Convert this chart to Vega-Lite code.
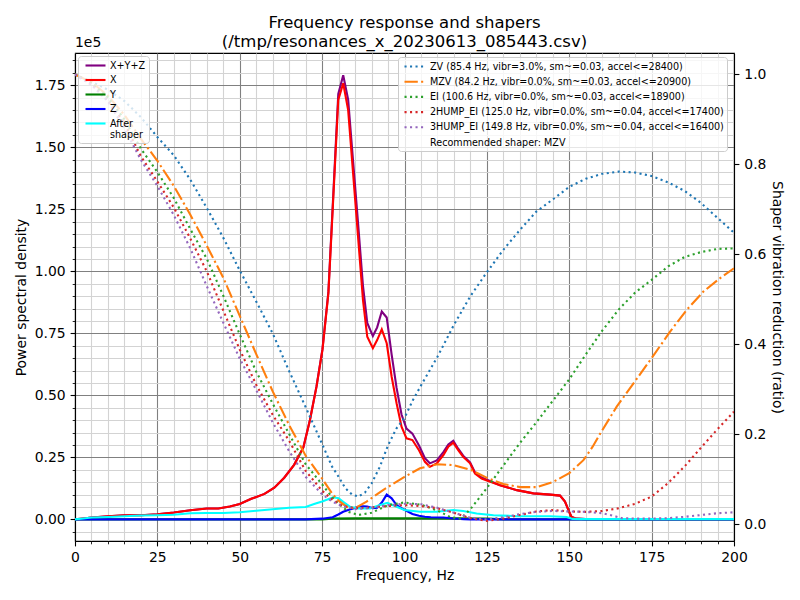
{
  "$schema": "https://vega.github.io/schema/vega-lite/v6.json",
  "width": 659,
  "height": 488,
  "autosize": "none",
  "padding": {"left": 75, "top": 53, "right": 66, "bottom": 59},
  "background": "#ffffff",
  "config": {
    "font": "DejaVu Sans",
    "view": {"stroke": "#000000", "strokeWidth": 1.1},
    "axis": {
      "labelFont": "DejaVu Sans",
      "labelFontSize": 13.9,
      "labelColor": "#000000",
      "titleFont": "DejaVu Sans",
      "titleFontSize": 13.9,
      "titleFontWeight": "normal",
      "titleColor": "#000000",
      "domainColor": "#000000",
      "domainWidth": 1.1,
      "tickColor": "#000000",
      "gridWidth": 1.1,
      "labelFlush": false,
      "labelOverlap": false,
      "labelPadding": 4.9
    },
    "legend": {
      "labelFont": "DejaVu Sans",
      "labelFontSize": 9.6,
      "labelColor": "#000000",
      "fillColor": "rgba(255,255,255,0.8)",
      "strokeColor": "#cccccc",
      "cornerRadius": 3,
      "padding": 3,
      "symbolType": "M-2,0L2,0",
      "symbolStrokeWidth": 2.1,
      "symbolSize": 100,
      "symbolOffset": 8,
      "rowPadding": 2.5,
      "labelOffset": 8,
      "labelLimit": 400
    }
  },
  "title": {
    "text": ["Frequency response and shapers", "(/tmp/resonances_x_20230613_085443.csv)"],
    "font": "DejaVu Sans",
    "fontSize": 16.5,
    "fontWeight": "normal",
    "color": "#000000",
    "anchor": "middle",
    "frame": "group",
    "baseline": "bottom",
    "lineHeight": 18.5,
    "offset": -30
  },
  "datasets": {
    "psd": [
      {"s": "X+Y+Z", "f": 0, "v": 0}, {"s": "X+Y+Z", "f": 2.5, "v": 400}, {"s": "X+Y+Z", "f": 5, "v": 800}, {"s": "X+Y+Z", "f": 10, "v": 1300},
      {"s": "X+Y+Z", "f": 15, "v": 1700}, {"s": "X+Y+Z", "f": 20, "v": 1700}, {"s": "X+Y+Z", "f": 25, "v": 2100}, {"s": "X+Y+Z", "f": 30, "v": 2800},
      {"s": "X+Y+Z", "f": 35, "v": 3700}, {"s": "X+Y+Z", "f": 40, "v": 4400}, {"s": "X+Y+Z", "f": 43.5, "v": 4400}, {"s": "X+Y+Z", "f": 47, "v": 5200},
      {"s": "X+Y+Z", "f": 50, "v": 6200}, {"s": "X+Y+Z", "f": 53.5, "v": 8300}, {"s": "X+Y+Z", "f": 57.5, "v": 10300}, {"s": "X+Y+Z", "f": 60.5, "v": 12800},
      {"s": "X+Y+Z", "f": 63.5, "v": 16800}, {"s": "X+Y+Z", "f": 66.5, "v": 22000}, {"s": "X+Y+Z", "f": 69.3, "v": 29000}, {"s": "X+Y+Z", "f": 71.3, "v": 40100},
      {"s": "X+Y+Z", "f": 73.3, "v": 53700}, {"s": "X+Y+Z", "f": 75.1, "v": 68600}, {"s": "X+Y+Z", "f": 76.9, "v": 91700}, {"s": "X+Y+Z", "f": 78.2, "v": 126000},
      {"s": "X+Y+Z", "f": 79.9, "v": 171500}, {"s": "X+Y+Z", "f": 81.4, "v": 179000}, {"s": "X+Y+Z", "f": 82.9, "v": 169200}, {"s": "X+Y+Z", "f": 84.4, "v": 144300},
      {"s": "X+Y+Z", "f": 85.9, "v": 119500}, {"s": "X+Y+Z", "f": 87.4, "v": 94100}, {"s": "X+Y+Z", "f": 88.7, "v": 79200}, {"s": "X+Y+Z", "f": 90.4, "v": 73900},
      {"s": "X+Y+Z", "f": 91.7, "v": 77400}, {"s": "X+Y+Z", "f": 93.1, "v": 83800}, {"s": "X+Y+Z", "f": 94.6, "v": 81400}, {"s": "X+Y+Z", "f": 96.1, "v": 66400},
      {"s": "X+Y+Z", "f": 97.6, "v": 53000}, {"s": "X+Y+Z", "f": 99.1, "v": 42300}, {"s": "X+Y+Z", "f": 100.6, "v": 36600}, {"s": "X+Y+Z", "f": 102.4, "v": 34600},
      {"s": "X+Y+Z", "f": 104.4, "v": 29800}, {"s": "X+Y+Z", "f": 106.2, "v": 24700}, {"s": "X+Y+Z", "f": 107.7, "v": 22600}, {"s": "X+Y+Z", "f": 109.8, "v": 23800},
      {"s": "X+Y+Z", "f": 111.8, "v": 27100}, {"s": "X+Y+Z", "f": 113.3, "v": 30200}, {"s": "X+Y+Z", "f": 114.8, "v": 31700}, {"s": "X+Y+Z", "f": 116.3, "v": 28500},
      {"s": "X+Y+Z", "f": 117.8, "v": 25700}, {"s": "X+Y+Z", "f": 119.9, "v": 23000}, {"s": "X+Y+Z", "f": 121.4, "v": 18900}, {"s": "X+Y+Z", "f": 123.4, "v": 16900},
      {"s": "X+Y+Z", "f": 125.2, "v": 15900}, {"s": "X+Y+Z", "f": 129, "v": 13800}, {"s": "X+Y+Z", "f": 134.1, "v": 11800}, {"s": "X+Y+Z", "f": 139.1, "v": 10500},
      {"s": "X+Y+Z", "f": 144.2, "v": 10000}, {"s": "X+Y+Z", "f": 147.2, "v": 9600}, {"s": "X+Y+Z", "f": 148.7, "v": 7200}, {"s": "X+Y+Z", "f": 150, "v": 3000},
      {"s": "X+Y+Z", "f": 150.7, "v": 1000}, {"s": "X+Y+Z", "f": 152.2, "v": 300}, {"s": "X+Y+Z", "f": 155, "v": 100}, {"s": "X+Y+Z", "f": 200, "v": 100},

      {"s": "X", "f": 0, "v": 0}, {"s": "X", "f": 2.5, "v": 400}, {"s": "X", "f": 5, "v": 800}, {"s": "X", "f": 10, "v": 1300},
      {"s": "X", "f": 15, "v": 1700}, {"s": "X", "f": 20, "v": 1700}, {"s": "X", "f": 25, "v": 2100}, {"s": "X", "f": 30, "v": 2800},
      {"s": "X", "f": 35, "v": 3700}, {"s": "X", "f": 40, "v": 4400}, {"s": "X", "f": 43.5, "v": 4400}, {"s": "X", "f": 47, "v": 5200},
      {"s": "X", "f": 50, "v": 6200}, {"s": "X", "f": 53.5, "v": 8300}, {"s": "X", "f": 57.5, "v": 10300}, {"s": "X", "f": 60.5, "v": 12800},
      {"s": "X", "f": 63.5, "v": 16800}, {"s": "X", "f": 66.5, "v": 22000}, {"s": "X", "f": 69.3, "v": 29000}, {"s": "X", "f": 71.3, "v": 40000},
      {"s": "X", "f": 73.3, "v": 53500}, {"s": "X", "f": 75.1, "v": 68300}, {"s": "X", "f": 76.9, "v": 91100}, {"s": "X", "f": 78.2, "v": 124700},
      {"s": "X", "f": 79.9, "v": 169100}, {"s": "X", "f": 81.4, "v": 175800}, {"s": "X", "f": 82.9, "v": 165000}, {"s": "X", "f": 84.4, "v": 139500},
      {"s": "X", "f": 85.9, "v": 114000}, {"s": "X", "f": 87.4, "v": 88400}, {"s": "X", "f": 88.7, "v": 73600}, {"s": "X", "f": 90.4, "v": 69000},
      {"s": "X", "f": 91.7, "v": 72300}, {"s": "X", "f": 93.1, "v": 76600}, {"s": "X", "f": 94.6, "v": 71000}, {"s": "X", "f": 96.1, "v": 57500},
      {"s": "X", "f": 97.6, "v": 46800}, {"s": "X", "f": 99.1, "v": 37400}, {"s": "X", "f": 100.6, "v": 32700}, {"s": "X", "f": 102.4, "v": 32000},
      {"s": "X", "f": 104.4, "v": 27900}, {"s": "X", "f": 106.2, "v": 23200}, {"s": "X", "f": 107.7, "v": 21200}, {"s": "X", "f": 109.8, "v": 22600},
      {"s": "X", "f": 111.8, "v": 25900}, {"s": "X", "f": 113.3, "v": 29300}, {"s": "X", "f": 114.8, "v": 30900}, {"s": "X", "f": 116.3, "v": 27900},
      {"s": "X", "f": 117.8, "v": 25200}, {"s": "X", "f": 119.9, "v": 22600}, {"s": "X", "f": 121.4, "v": 18500}, {"s": "X", "f": 123.4, "v": 16500},
      {"s": "X", "f": 125.2, "v": 15600}, {"s": "X", "f": 129, "v": 13800}, {"s": "X", "f": 134.1, "v": 11800}, {"s": "X", "f": 139.1, "v": 10500},
      {"s": "X", "f": 144.2, "v": 10000}, {"s": "X", "f": 147.2, "v": 9600}, {"s": "X", "f": 148.7, "v": 7200}, {"s": "X", "f": 150, "v": 3000},
      {"s": "X", "f": 150.7, "v": 1000}, {"s": "X", "f": 152.2, "v": 300}, {"s": "X", "f": 155, "v": 100}, {"s": "X", "f": 200, "v": 100},

      {"s": "Y", "f": 0, "v": 0}, {"s": "Y", "f": 75, "v": 0}, {"s": "Y", "f": 78, "v": 300}, {"s": "Y", "f": 85, "v": 400},
      {"s": "Y", "f": 100, "v": 400}, {"s": "Y", "f": 115, "v": 400}, {"s": "Y", "f": 125, "v": 300}, {"s": "Y", "f": 130, "v": 0},
      {"s": "Y", "f": 200, "v": 0},

      {"s": "Z", "f": 0, "v": 0}, {"s": "Z", "f": 70, "v": 0}, {"s": "Z", "f": 75, "v": 300}, {"s": "Z", "f": 78.2, "v": 900},
      {"s": "Z", "f": 79.9, "v": 2000}, {"s": "Z", "f": 81.4, "v": 3100}, {"s": "Z", "f": 82.9, "v": 3800}, {"s": "Z", "f": 84.4, "v": 4400},
      {"s": "Z", "f": 85.9, "v": 5100}, {"s": "Z", "f": 87.4, "v": 5300}, {"s": "Z", "f": 88.7, "v": 5200}, {"s": "Z", "f": 90.4, "v": 4500},
      {"s": "Z", "f": 91.7, "v": 4700}, {"s": "Z", "f": 93.1, "v": 6800}, {"s": "Z", "f": 94.6, "v": 10000}, {"s": "Z", "f": 96.1, "v": 8500},
      {"s": "Z", "f": 97.6, "v": 5800}, {"s": "Z", "f": 99.1, "v": 4500}, {"s": "Z", "f": 100.6, "v": 3500}, {"s": "Z", "f": 102.4, "v": 2200},
      {"s": "Z", "f": 104.4, "v": 1500}, {"s": "Z", "f": 106.2, "v": 1100}, {"s": "Z", "f": 108, "v": 900}, {"s": "Z", "f": 111.8, "v": 800},
      {"s": "Z", "f": 114.8, "v": 400}, {"s": "Z", "f": 118, "v": 100}, {"s": "Z", "f": 120, "v": 0}, {"s": "Z", "f": 200, "v": 0},

      {"s": "After shaper", "f": 0, "v": 0}, {"s": "After shaper", "f": 2.5, "v": 400}, {"s": "After shaper", "f": 5, "v": 800}, {"s": "After shaper", "f": 10, "v": 1000},
      {"s": "After shaper", "f": 15, "v": 1300}, {"s": "After shaper", "f": 20, "v": 1600}, {"s": "After shaper", "f": 25, "v": 1700}, {"s": "After shaper", "f": 30, "v": 1900},
      {"s": "After shaper", "f": 35, "v": 2500}, {"s": "After shaper", "f": 40, "v": 2600}, {"s": "After shaper", "f": 45, "v": 2600}, {"s": "After shaper", "f": 50, "v": 2900},
      {"s": "After shaper", "f": 55, "v": 3500}, {"s": "After shaper", "f": 60, "v": 4100}, {"s": "After shaper", "f": 65, "v": 4700}, {"s": "After shaper", "f": 70, "v": 5000},
      {"s": "After shaper", "f": 72.8, "v": 6300}, {"s": "After shaper", "f": 75, "v": 7200}, {"s": "After shaper", "f": 78.4, "v": 8900}, {"s": "After shaper", "f": 80, "v": 8500},
      {"s": "After shaper", "f": 81.4, "v": 7100}, {"s": "After shaper", "f": 83.5, "v": 5100}, {"s": "After shaper", "f": 86, "v": 4400}, {"s": "After shaper", "f": 89.5, "v": 4400},
      {"s": "After shaper", "f": 92.6, "v": 5800}, {"s": "After shaper", "f": 94.8, "v": 6700}, {"s": "After shaper", "f": 97.6, "v": 5100}, {"s": "After shaper", "f": 100, "v": 3800},
      {"s": "After shaper", "f": 104.7, "v": 3100}, {"s": "After shaper", "f": 109.8, "v": 3100}, {"s": "After shaper", "f": 114.8, "v": 3800}, {"s": "After shaper", "f": 117.8, "v": 3400},
      {"s": "After shaper", "f": 121.9, "v": 2400}, {"s": "After shaper", "f": 127, "v": 1700}, {"s": "After shaper", "f": 134, "v": 1300}, {"s": "After shaper", "f": 144.2, "v": 1300},
      {"s": "After shaper", "f": 149.2, "v": 1000}, {"s": "After shaper", "f": 151, "v": 200}, {"s": "After shaper", "f": 155, "v": 100}, {"s": "After shaper", "f": 200, "v": 100}
    ],
    "shapers": [
      {"k": "ZV", "f": 0, "r": 1}, {"k": "ZV", "f": 5, "r": 0.984}, {"k": "ZV", "f": 10, "r": 0.966}, {"k": "ZV", "f": 15, "r": 0.941},
      {"k": "ZV", "f": 20, "r": 0.905}, {"k": "ZV", "f": 25, "r": 0.861}, {"k": "ZV", "f": 30, "r": 0.82}, {"k": "ZV", "f": 35, "r": 0.766},
      {"k": "ZV", "f": 40, "r": 0.703}, {"k": "ZV", "f": 45, "r": 0.637}, {"k": "ZV", "f": 50, "r": 0.564}, {"k": "ZV", "f": 55, "r": 0.495},
      {"k": "ZV", "f": 60, "r": 0.424}, {"k": "ZV", "f": 65, "r": 0.34}, {"k": "ZV", "f": 70, "r": 0.26}, {"k": "ZV", "f": 75, "r": 0.178},
      {"k": "ZV", "f": 78, "r": 0.128}, {"k": "ZV", "f": 80, "r": 0.105}, {"k": "ZV", "f": 82, "r": 0.08}, {"k": "ZV", "f": 84, "r": 0.066},
      {"k": "ZV", "f": 86, "r": 0.061}, {"k": "ZV", "f": 88, "r": 0.07}, {"k": "ZV", "f": 90, "r": 0.09}, {"k": "ZV", "f": 92.5, "r": 0.127},
      {"k": "ZV", "f": 95, "r": 0.175}, {"k": "ZV", "f": 97.5, "r": 0.212}, {"k": "ZV", "f": 100, "r": 0.236}, {"k": "ZV", "f": 102.5, "r": 0.275},
      {"k": "ZV", "f": 105, "r": 0.308}, {"k": "ZV", "f": 107.5, "r": 0.34}, {"k": "ZV", "f": 110, "r": 0.372}, {"k": "ZV", "f": 115, "r": 0.443},
      {"k": "ZV", "f": 120, "r": 0.507}, {"k": "ZV", "f": 125, "r": 0.56}, {"k": "ZV", "f": 130, "r": 0.61}, {"k": "ZV", "f": 135, "r": 0.654},
      {"k": "ZV", "f": 140, "r": 0.695}, {"k": "ZV", "f": 145, "r": 0.722}, {"k": "ZV", "f": 150, "r": 0.75}, {"k": "ZV", "f": 155, "r": 0.768},
      {"k": "ZV", "f": 160, "r": 0.779}, {"k": "ZV", "f": 165, "r": 0.784}, {"k": "ZV", "f": 170, "r": 0.782}, {"k": "ZV", "f": 175, "r": 0.774},
      {"k": "ZV", "f": 180, "r": 0.76}, {"k": "ZV", "f": 185, "r": 0.741}, {"k": "ZV", "f": 190, "r": 0.714}, {"k": "ZV", "f": 195, "r": 0.681},
      {"k": "ZV", "f": 200, "r": 0.648},

      {"k": "MZV", "f": 0, "r": 1}, {"k": "MZV", "f": 5, "r": 0.983}, {"k": "MZV", "f": 10, "r": 0.953}, {"k": "MZV", "f": 15, "r": 0.91},
      {"k": "MZV", "f": 20, "r": 0.857}, {"k": "MZV", "f": 25, "r": 0.808}, {"k": "MZV", "f": 30, "r": 0.752}, {"k": "MZV", "f": 35, "r": 0.688},
      {"k": "MZV", "f": 40, "r": 0.619}, {"k": "MZV", "f": 45, "r": 0.548}, {"k": "MZV", "f": 50, "r": 0.463}, {"k": "MZV", "f": 55, "r": 0.378},
      {"k": "MZV", "f": 60, "r": 0.295}, {"k": "MZV", "f": 65, "r": 0.22}, {"k": "MZV", "f": 70, "r": 0.152}, {"k": "MZV", "f": 75, "r": 0.101},
      {"k": "MZV", "f": 78, "r": 0.068}, {"k": "MZV", "f": 80, "r": 0.052}, {"k": "MZV", "f": 82.5, "r": 0.038}, {"k": "MZV", "f": 85, "r": 0.035},
      {"k": "MZV", "f": 88.5, "r": 0.05}, {"k": "MZV", "f": 93.6, "r": 0.076}, {"k": "MZV", "f": 100, "r": 0.105}, {"k": "MZV", "f": 104.7, "r": 0.124},
      {"k": "MZV", "f": 110, "r": 0.133}, {"k": "MZV", "f": 114.8, "r": 0.131}, {"k": "MZV", "f": 120.2, "r": 0.12}, {"k": "MZV", "f": 125.2, "r": 0.102},
      {"k": "MZV", "f": 130, "r": 0.089}, {"k": "MZV", "f": 135.1, "r": 0.082}, {"k": "MZV", "f": 140.1, "r": 0.082}, {"k": "MZV", "f": 145.2, "r": 0.094},
      {"k": "MZV", "f": 150, "r": 0.113}, {"k": "MZV", "f": 154.3, "r": 0.142}, {"k": "MZV", "f": 157.1, "r": 0.172}, {"k": "MZV", "f": 159.3, "r": 0.2},
      {"k": "MZV", "f": 164.4, "r": 0.261}, {"k": "MZV", "f": 169.5, "r": 0.313}, {"k": "MZV", "f": 175, "r": 0.369}, {"k": "MZV", "f": 180.6, "r": 0.428},
      {"k": "MZV", "f": 185.6, "r": 0.476}, {"k": "MZV", "f": 190.7, "r": 0.517}, {"k": "MZV", "f": 195.8, "r": 0.547}, {"k": "MZV", "f": 200, "r": 0.569},

      {"k": "EI", "f": 0, "r": 1}, {"k": "EI", "f": 5, "r": 0.981}, {"k": "EI", "f": 10, "r": 0.949}, {"k": "EI", "f": 15, "r": 0.9},
      {"k": "EI", "f": 20, "r": 0.835}, {"k": "EI", "f": 25, "r": 0.783}, {"k": "EI", "f": 30, "r": 0.725}, {"k": "EI", "f": 35, "r": 0.656},
      {"k": "EI", "f": 40, "r": 0.59}, {"k": "EI", "f": 45, "r": 0.508}, {"k": "EI", "f": 50, "r": 0.422}, {"k": "EI", "f": 55, "r": 0.339},
      {"k": "EI", "f": 60, "r": 0.268}, {"k": "EI", "f": 65, "r": 0.2}, {"k": "EI", "f": 70, "r": 0.133}, {"k": "EI", "f": 75, "r": 0.088},
      {"k": "EI", "f": 78, "r": 0.06}, {"k": "EI", "f": 80, "r": 0.045}, {"k": "EI", "f": 83, "r": 0.027}, {"k": "EI", "f": 86, "r": 0.02},
      {"k": "EI", "f": 90, "r": 0.025}, {"k": "EI", "f": 95, "r": 0.042}, {"k": "EI", "f": 100, "r": 0.048}, {"k": "EI", "f": 105, "r": 0.043},
      {"k": "EI", "f": 110, "r": 0.03}, {"k": "EI", "f": 114, "r": 0.015}, {"k": "EI", "f": 117, "r": 0.012}, {"k": "EI", "f": 120, "r": 0.033},
      {"k": "EI", "f": 123, "r": 0.061}, {"k": "EI", "f": 125, "r": 0.08}, {"k": "EI", "f": 130, "r": 0.13}, {"k": "EI", "f": 135, "r": 0.18},
      {"k": "EI", "f": 140, "r": 0.226}, {"k": "EI", "f": 145, "r": 0.274}, {"k": "EI", "f": 150, "r": 0.322}, {"k": "EI", "f": 155, "r": 0.377},
      {"k": "EI", "f": 160, "r": 0.43}, {"k": "EI", "f": 165, "r": 0.477}, {"k": "EI", "f": 170, "r": 0.515}, {"k": "EI", "f": 175, "r": 0.543},
      {"k": "EI", "f": 180, "r": 0.573}, {"k": "EI", "f": 185, "r": 0.594}, {"k": "EI", "f": 190, "r": 0.605}, {"k": "EI", "f": 195, "r": 0.612},
      {"k": "EI", "f": 200, "r": 0.613},

      {"k": "2HUMP_EI", "f": 0, "r": 1}, {"k": "2HUMP_EI", "f": 5, "r": 0.978}, {"k": "2HUMP_EI", "f": 10, "r": 0.942}, {"k": "2HUMP_EI", "f": 15, "r": 0.892},
      {"k": "2HUMP_EI", "f": 20, "r": 0.818}, {"k": "2HUMP_EI", "f": 25, "r": 0.762}, {"k": "2HUMP_EI", "f": 30, "r": 0.704}, {"k": "2HUMP_EI", "f": 35, "r": 0.635},
      {"k": "2HUMP_EI", "f": 40, "r": 0.562}, {"k": "2HUMP_EI", "f": 45, "r": 0.475}, {"k": "2HUMP_EI", "f": 50, "r": 0.388}, {"k": "2HUMP_EI", "f": 55, "r": 0.31},
      {"k": "2HUMP_EI", "f": 60, "r": 0.243}, {"k": "2HUMP_EI", "f": 65, "r": 0.185}, {"k": "2HUMP_EI", "f": 70, "r": 0.118}, {"k": "2HUMP_EI", "f": 75, "r": 0.074},
      {"k": "2HUMP_EI", "f": 78, "r": 0.055}, {"k": "2HUMP_EI", "f": 81, "r": 0.041}, {"k": "2HUMP_EI", "f": 85, "r": 0.035}, {"k": "2HUMP_EI", "f": 90, "r": 0.037},
      {"k": "2HUMP_EI", "f": 95, "r": 0.04}, {"k": "2HUMP_EI", "f": 100, "r": 0.042}, {"k": "2HUMP_EI", "f": 105, "r": 0.04}, {"k": "2HUMP_EI", "f": 110, "r": 0.035},
      {"k": "2HUMP_EI", "f": 115, "r": 0.025}, {"k": "2HUMP_EI", "f": 120, "r": 0.013}, {"k": "2HUMP_EI", "f": 125, "r": 0.007}, {"k": "2HUMP_EI", "f": 130, "r": 0.012},
      {"k": "2HUMP_EI", "f": 135, "r": 0.02}, {"k": "2HUMP_EI", "f": 140, "r": 0.028}, {"k": "2HUMP_EI", "f": 145, "r": 0.031}, {"k": "2HUMP_EI", "f": 150, "r": 0.028},
      {"k": "2HUMP_EI", "f": 155, "r": 0.027}, {"k": "2HUMP_EI", "f": 160, "r": 0.029}, {"k": "2HUMP_EI", "f": 165, "r": 0.035}, {"k": "2HUMP_EI", "f": 170, "r": 0.045},
      {"k": "2HUMP_EI", "f": 175, "r": 0.061}, {"k": "2HUMP_EI", "f": 180, "r": 0.091}, {"k": "2HUMP_EI", "f": 185, "r": 0.128}, {"k": "2HUMP_EI", "f": 190, "r": 0.17},
      {"k": "2HUMP_EI", "f": 195, "r": 0.211}, {"k": "2HUMP_EI", "f": 200, "r": 0.25},

      {"k": "3HUMP_EI", "f": 0, "r": 1}, {"k": "3HUMP_EI", "f": 5, "r": 0.977}, {"k": "3HUMP_EI", "f": 10, "r": 0.94}, {"k": "3HUMP_EI", "f": 15, "r": 0.88},
      {"k": "3HUMP_EI", "f": 20, "r": 0.81}, {"k": "3HUMP_EI", "f": 25, "r": 0.752}, {"k": "3HUMP_EI", "f": 30, "r": 0.687}, {"k": "3HUMP_EI", "f": 35, "r": 0.613},
      {"k": "3HUMP_EI", "f": 40, "r": 0.529}, {"k": "3HUMP_EI", "f": 45, "r": 0.448}, {"k": "3HUMP_EI", "f": 50, "r": 0.368}, {"k": "3HUMP_EI", "f": 55, "r": 0.298},
      {"k": "3HUMP_EI", "f": 60, "r": 0.226}, {"k": "3HUMP_EI", "f": 65, "r": 0.162}, {"k": "3HUMP_EI", "f": 70, "r": 0.105}, {"k": "3HUMP_EI", "f": 75, "r": 0.066},
      {"k": "3HUMP_EI", "f": 78, "r": 0.05}, {"k": "3HUMP_EI", "f": 81, "r": 0.04}, {"k": "3HUMP_EI", "f": 85, "r": 0.033}, {"k": "3HUMP_EI", "f": 90, "r": 0.036},
      {"k": "3HUMP_EI", "f": 95, "r": 0.042}, {"k": "3HUMP_EI", "f": 100, "r": 0.045}, {"k": "3HUMP_EI", "f": 105, "r": 0.044}, {"k": "3HUMP_EI", "f": 110, "r": 0.036},
      {"k": "3HUMP_EI", "f": 115, "r": 0.025}, {"k": "3HUMP_EI", "f": 120, "r": 0.014}, {"k": "3HUMP_EI", "f": 125, "r": 0.01}, {"k": "3HUMP_EI", "f": 130, "r": 0.015},
      {"k": "3HUMP_EI", "f": 135, "r": 0.022}, {"k": "3HUMP_EI", "f": 140, "r": 0.027}, {"k": "3HUMP_EI", "f": 145, "r": 0.029}, {"k": "3HUMP_EI", "f": 150, "r": 0.028},
      {"k": "3HUMP_EI", "f": 155, "r": 0.027}, {"k": "3HUMP_EI", "f": 160, "r": 0.024}, {"k": "3HUMP_EI", "f": 163, "r": 0.019}, {"k": "3HUMP_EI", "f": 166, "r": 0.013},
      {"k": "3HUMP_EI", "f": 170, "r": 0.012}, {"k": "3HUMP_EI", "f": 175, "r": 0.012}, {"k": "3HUMP_EI", "f": 180, "r": 0.013}, {"k": "3HUMP_EI", "f": 185, "r": 0.016},
      {"k": "3HUMP_EI", "f": 190, "r": 0.02}, {"k": "3HUMP_EI", "f": 195, "r": 0.024}, {"k": "3HUMP_EI", "f": 200, "r": 0.026}
    ],
    "offset": [{"t": "1e5", "f": 0, "v": 188000}]
  },
  "layer": [
    {
      "layer": [
        {
          "data": {"name": "psd"},
          "mark": {"type": "line", "strokeWidth": 2.1, "clip": true},
          "encoding": {
            "x": {
              "field": "f",
              "type": "quantitative",
              "scale": {"domain": [0, 200], "nice": false, "zero": false},
              "axis": {
                "title": "Frequency, Hz",
                "titlePadding": 4,
                "values": [0, 5, 10, 15, 20, 25, 30, 35, 40, 45, 50, 55, 60, 65, 70, 75, 80, 85, 90, 95, 100, 105, 110, 115, 120, 125, 130, 135, 140, 145, 150, 155, 160, 165, 170, 175, 180, 185, 190, 195, 200],
                "format": "d",
                "labelExpr": "datum.value % 25 === 0 ? datum.label : ''",
                "grid": true,
                "gridColor": {"condition": {"test": "datum.value % 25 === 0", "value": "#808080"}, "value": "#d3d3d3"},
                "tickSize": {"condition": {"test": "datum.value % 25 === 0", "value": 4.9}, "value": 2.8},
                "tickWidth": {"condition": {"test": "datum.value % 25 === 0", "value": 1.1}, "value": 0.85}
              }
            },
            "y": {
              "field": "v",
              "type": "quantitative",
              "scale": {"domain": [-8700, 188000], "nice": false, "zero": false},
              "axis": {
                "title": "Power spectral density",
                "titlePadding": 6,
                "values": [-5000, 0, 5000, 10000, 15000, 20000, 25000, 30000, 35000, 40000, 45000, 50000, 55000, 60000, 65000, 70000, 75000, 80000, 85000, 90000, 95000, 100000, 105000, 110000, 115000, 120000, 125000, 130000, 135000, 140000, 145000, 150000, 155000, 160000, 165000, 170000, 175000, 180000, 185000],
                "labelExpr": "datum.value % 25000 === 0 ? format(datum.value / 100000, '.2f') : ''",
                "grid": true,
                "gridColor": {"condition": {"test": "datum.value % 25000 === 0", "value": "#808080"}, "value": "#d3d3d3"},
                "tickSize": {"condition": {"test": "datum.value % 25000 === 0", "value": 4.9}, "value": 2.8},
                "tickWidth": {"condition": {"test": "datum.value % 25000 === 0", "value": 1.1}, "value": 0.85}
              }
            },
            "color": {
              "field": "s",
              "type": "nominal",
              "scale": {
                "domain": ["X+Y+Z", "X", "Y", "Z", "After shaper"],
                "range": ["#800080", "#ff0000", "#008000", "#0000ff", "#00ffff"]
              },
              "legend": {
                "title": null,
                "orient": "none",
                "legendX": 3,
                "legendY": 3,
                "labelExpr": "datum.label === 'After shaper' ? ['After', 'shaper'] : datum.label"
              }
            }
          }
        },
        {
          "data": {"name": "offset"},
          "mark": {"type": "text", "align": "left", "baseline": "bottom", "dy": -3, "fontSize": 13.9, "font": "DejaVu Sans", "color": "#000000"},
          "encoding": {
            "x": {
              "field": "f",
              "type": "quantitative",
              "axis": {
                "title": "Frequency, Hz",
                "titlePadding": 4,
                "values": [0, 5, 10, 15, 20, 25, 30, 35, 40, 45, 50, 55, 60, 65, 70, 75, 80, 85, 90, 95, 100, 105, 110, 115, 120, 125, 130, 135, 140, 145, 150, 155, 160, 165, 170, 175, 180, 185, 190, 195, 200],
                "format": "d",
                "labelExpr": "datum.value % 25 === 0 ? datum.label : ''",
                "grid": true,
                "gridColor": {"condition": {"test": "datum.value % 25 === 0", "value": "#808080"}, "value": "#d3d3d3"},
                "tickSize": {"condition": {"test": "datum.value % 25 === 0", "value": 4.9}, "value": 2.8},
                "tickWidth": {"condition": {"test": "datum.value % 25 === 0", "value": 1.1}, "value": 0.85}
              }
            },
            "y": {
              "field": "v",
              "type": "quantitative",
              "axis": {
                "title": "Power spectral density",
                "titlePadding": 6,
                "values": [-5000, 0, 5000, 10000, 15000, 20000, 25000, 30000, 35000, 40000, 45000, 50000, 55000, 60000, 65000, 70000, 75000, 80000, 85000, 90000, 95000, 100000, 105000, 110000, 115000, 120000, 125000, 130000, 135000, 140000, 145000, 150000, 155000, 160000, 165000, 170000, 175000, 180000, 185000],
                "labelExpr": "datum.value % 25000 === 0 ? format(datum.value / 100000, '.2f') : ''",
                "grid": true,
                "gridColor": {"condition": {"test": "datum.value % 25000 === 0", "value": "#808080"}, "value": "#d3d3d3"},
                "tickSize": {"condition": {"test": "datum.value % 25000 === 0", "value": 4.9}, "value": 2.8},
                "tickWidth": {"condition": {"test": "datum.value % 25000 === 0", "value": 1.1}, "value": 0.85}
              }
            },
            "text": {"field": "t"}
          }
        }
      ]
    },
    {
      "data": {"name": "shapers"},
      "mark": {"type": "line", "strokeWidth": 2.1, "strokeCap": "butt", "clip": true},
      "encoding": {
        "x": {
          "field": "f",
          "type": "quantitative",
          "axis": {
            "title": "Frequency, Hz",
            "titlePadding": 4,
            "values": [0, 5, 10, 15, 20, 25, 30, 35, 40, 45, 50, 55, 60, 65, 70, 75, 80, 85, 90, 95, 100, 105, 110, 115, 120, 125, 130, 135, 140, 145, 150, 155, 160, 165, 170, 175, 180, 185, 190, 195, 200],
            "format": "d",
            "labelExpr": "datum.value % 25 === 0 ? datum.label : ''",
            "grid": true,
            "gridColor": {"condition": {"test": "datum.value % 25 === 0", "value": "#808080"}, "value": "#d3d3d3"},
            "tickSize": {"condition": {"test": "datum.value % 25 === 0", "value": 4.9}, "value": 2.8},
            "tickWidth": {"condition": {"test": "datum.value % 25 === 0", "value": 1.1}, "value": 0.85}
          }
        },
        "y": {
          "field": "r",
          "type": "quantitative",
          "scale": {"domain": [-0.0378, 1.0478], "nice": false, "zero": false},
          "axis": {
            "orient": "right",
            "title": "Shaper vibration reduction (ratio)",
            "titlePadding": 4,
            "values": [0, 0.2, 0.4, 0.6, 0.8, 1.0],
            "format": ".1f",
            "grid": false,
            "tickSize": 4.9,
            "tickWidth": 1.1
          }
        },
        "color": {
          "field": "k",
          "type": "nominal",
          "scale": {
            "domain": ["ZV", "MZV", "EI", "2HUMP_EI", "3HUMP_EI", "rec"],
            "range": ["#1f77b4", "#ff7f0e", "#2ca02c", "#d62728", "#9467bd", "rgba(0,0,0,0)"]
          },
          "legend": {
            "title": null,
            "orient": "none",
            "legendX": 323,
            "legendY": 4,
            "symbolOffset": 7,
            "labelOffset": 9,
            "rowPadding": 3.2,
            "labelExpr": "datum.label === 'ZV' ? 'ZV (85.4 Hz, vibr=3.0%, sm~=0.03, accel<=28400)' : datum.label === 'MZV' ? 'MZV (84.2 Hz, vibr=0.0%, sm~=0.03, accel<=20900)' : datum.label === 'EI' ? 'EI (100.6 Hz, vibr=0.0%, sm~=0.03, accel<=18900)' : datum.label === '2HUMP_EI' ? '2HUMP_EI (125.0 Hz, vibr=0.0%, sm~=0.04, accel<=17400)' : datum.label === '3HUMP_EI' ? '3HUMP_EI (149.8 Hz, vibr=0.0%, sm~=0.04, accel<=16400)' : 'Recommended shaper: MZV'"
          }
        },
        "strokeDash": {
          "field": "k",
          "type": "nominal",
          "scale": {
            "domain": ["ZV", "MZV", "EI", "2HUMP_EI", "3HUMP_EI", "rec"],
            "range": [[2.1, 3.4], [13.3, 3.3, 2.1, 3.3], [2.1, 3.4], [2.1, 3.4], [2.1, 3.4], [1, 0]]
          },
          "legend": null
        }
      }
    }
  ],
  "resolve": {
    "scale": {"y": "independent", "color": "independent", "strokeDash": "independent"},
    "axis": {"y": "independent"},
    "legend": {"color": "independent"}
  }
}
